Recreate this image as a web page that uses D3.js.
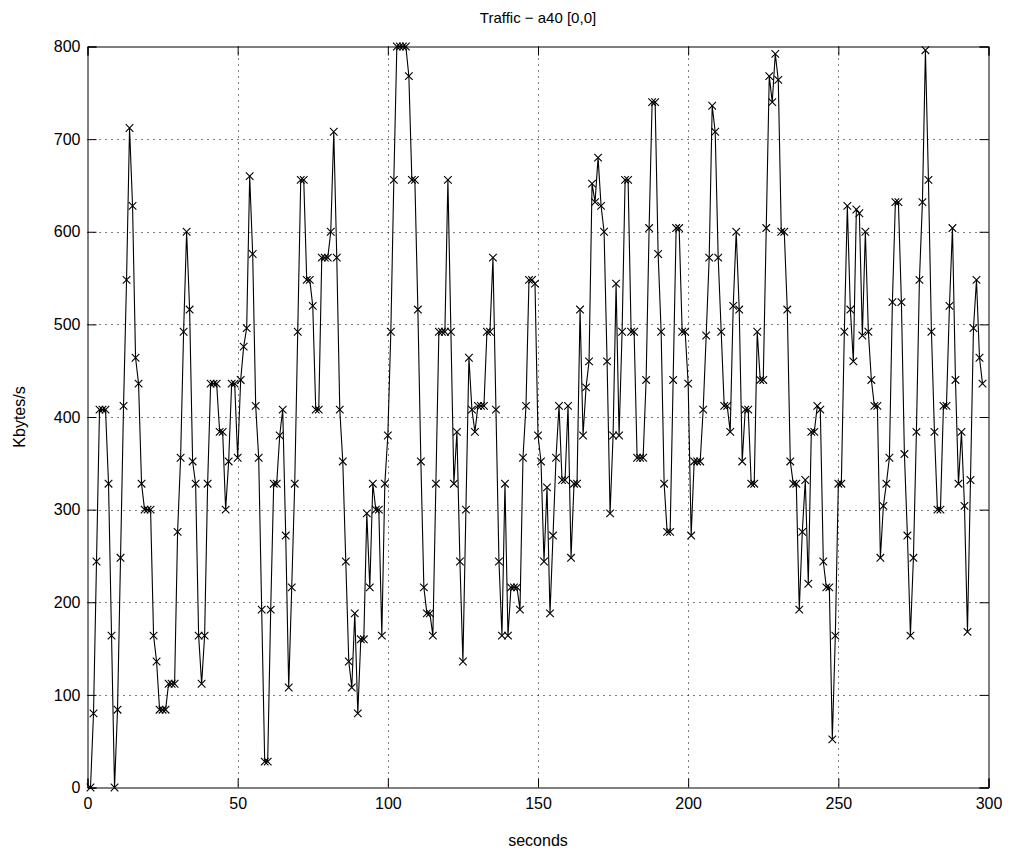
<!DOCTYPE html>
<html>
<head>
<meta charset="utf-8">
<script src="https://cdn.jsdelivr.net/npm/d3@7"></script>
<style>
  body { margin: 0; background: #fff; }
  svg { display: block; }
  text { font-family: "Liberation Sans", Arial, Helvetica, sans-serif; fill: #000; }
</style>
</head>
<body>
<script>
// Traffic samples, one per second, starting at t = 1 s (Kbytes/s)
const traffic = [
  0, 80, 244, 408, 408, 408, 328, 164, 0, 84,
  248, 412, 548, 712, 628, 464, 436, 328, 300, 300,
  300, 164, 136, 84, 84, 84, 112, 112, 112, 276,
  356, 492, 600, 516, 352, 328, 164, 112, 164, 328,
  436, 436, 436, 384, 384, 300, 352, 436, 436, 356,
  440, 476, 496, 660, 576, 412, 356, 192, 28, 28,
  192, 328, 328, 380, 408, 272, 108, 216, 328, 492,
  656, 656, 548, 548, 520, 408, 408, 572, 572, 572,
  600, 708, 572, 408, 352, 244, 136, 108, 188, 80,
  160, 160, 296, 216, 328, 300, 300, 164, 328, 380,
  492, 656, 800, 800, 800, 800, 768, 656, 656, 516,
  352, 216, 188, 188, 164, 328, 492, 492, 492, 656,
  492, 328, 384, 244, 136, 300, 464, 408, 384, 412,
  412, 412, 492, 492, 572, 408, 244, 164, 328, 164,
  216, 216, 216, 192, 356, 412, 548, 548, 544, 380,
  352, 244, 324, 188, 272, 356, 412, 332, 332, 412,
  248, 328, 328, 516, 380, 432, 460, 652, 632, 680,
  628, 600, 460, 296, 380, 544, 380, 492, 656, 656,
  492, 492, 356, 356, 356, 440, 604, 740, 740, 576,
  492, 328, 276, 276, 440, 604, 604, 492, 492, 436,
  272, 352, 352, 352, 408, 488, 572, 736, 708, 572,
  492, 412, 412, 384, 520, 600, 516, 352, 408, 408,
  328, 328, 492, 440, 440, 604, 768, 740, 792, 764,
  600, 600, 516, 352, 328, 328, 192, 276, 332, 220,
  384, 384, 412, 408, 244, 216, 216, 52, 164, 328,
  328, 492, 628, 516, 460, 624, 620, 488, 600, 492,
  440, 412, 412, 248, 304, 328, 356, 524, 632, 632,
  524, 360, 272, 164, 248, 384, 548, 632, 796, 656,
  492, 384, 300, 300, 412, 412, 520, 604, 440, 328,
  384, 304, 168, 332, 496, 548, 464, 436
];
const firstSecond = 1;

const xTicks = [0, 50, 100, 150, 200, 250, 300];
const yTicks = [0, 100, 200, 300, 400, 500, 600, 700, 800];

const titleText = "Traffic \u2212 a40 [0,0]";
const xLabel = "seconds";
const yLabel = "Kbytes/s";

const W = 1012, H = 853;
const plot = { left: 87.5, right: 988.5, top: 46.5, bottom: 787.5 };

const svg = d3.select("body").append("svg")
  .attr("width", W).attr("height", H);

const x = d3.scaleLinear().domain([0, 300]).range([plot.left, plot.right]);
const y = d3.scaleLinear().domain([0, 800]).range([plot.bottom, plot.top]);

const points = traffic.map((v, i) => ({ t: firstSecond + i, v }));

// dotted grid
const grid = svg.append("g").attr("stroke", "#000").attr("stroke-width", 1)
  .attr("stroke-dasharray", "1,5");
grid.selectAll("line.gx").data(xTicks.filter(d => d > 0 && d < 300)).join("line")
  .attr("x1", d => Math.round(x(d)) + 0.5).attr("x2", d => Math.round(x(d)) + 0.5)
  .attr("y1", plot.top).attr("y2", plot.bottom);
grid.selectAll("line.gy").data(yTicks.filter(d => d > 0 && d < 800)).join("line")
  .attr("y1", d => Math.round(y(d)) + 0.5).attr("y2", d => Math.round(y(d)) + 0.5)
  .attr("x1", plot.left).attr("x2", plot.right);

// axes with inward ticks
const tick = 9;
const fs = 16;
const axB = svg.append("g").attr("transform", `translate(0,${plot.bottom})`)
  .call(d3.axisBottom(x).tickValues(xTicks).tickSize(-tick).tickPadding(10));
const axL = svg.append("g").attr("transform", `translate(${plot.left},0)`)
  .call(d3.axisLeft(y).tickValues(yTicks).tickSize(-tick).tickPadding(7));
const axT = svg.append("g").attr("transform", `translate(0,${plot.top})`)
  .call(d3.axisTop(x).tickValues(xTicks).tickSize(-tick).tickFormat(""));
const axR = svg.append("g").attr("transform", `translate(${plot.right},0)`)
  .call(d3.axisRight(y).tickValues(yTicks).tickSize(-tick).tickFormat(""));
[axB, axL, axT, axR].forEach(g => {
  g.select(".domain").attr("stroke", "#000");
  g.selectAll(".tick line").attr("stroke", "#000");
  g.selectAll("text").attr("font-size", fs).attr("font-family", "Liberation Sans, Arial, sans-serif").attr("fill", "#000");
});

// traffic line
const line = d3.line().x(d => x(d.t)).y(d => y(d.v));
svg.append("path").datum(points)
  .attr("fill", "none").attr("stroke", "#000").attr("stroke-width", 1.1)
  .attr("d", line);

// x markers
const m = 3.8;
svg.append("g").attr("stroke", "#000").attr("stroke-width", 1.1)
  .selectAll("path").data(points).join("path")
  .attr("d", d => {
    const cx = x(d.t), cy = y(d.v);
    return `M${cx - m},${cy - m}L${cx + m},${cy + m}M${cx - m},${cy + m}L${cx + m},${cy - m}`;
  });

// titles
svg.append("text").attr("x", (plot.left + plot.right) / 2).attr("y", 23)
  .attr("text-anchor", "middle").attr("font-size", 15).text(titleText);
svg.append("text").attr("x", (plot.left + plot.right) / 2).attr("y", 846)
  .attr("text-anchor", "middle").attr("font-size", fs).text(xLabel);
svg.append("text").attr("transform", `translate(25,${(plot.top + plot.bottom) / 2}) rotate(-90)`)
  .attr("text-anchor", "middle").attr("font-size", fs).text(yLabel);
</script>
</body>
</html>
